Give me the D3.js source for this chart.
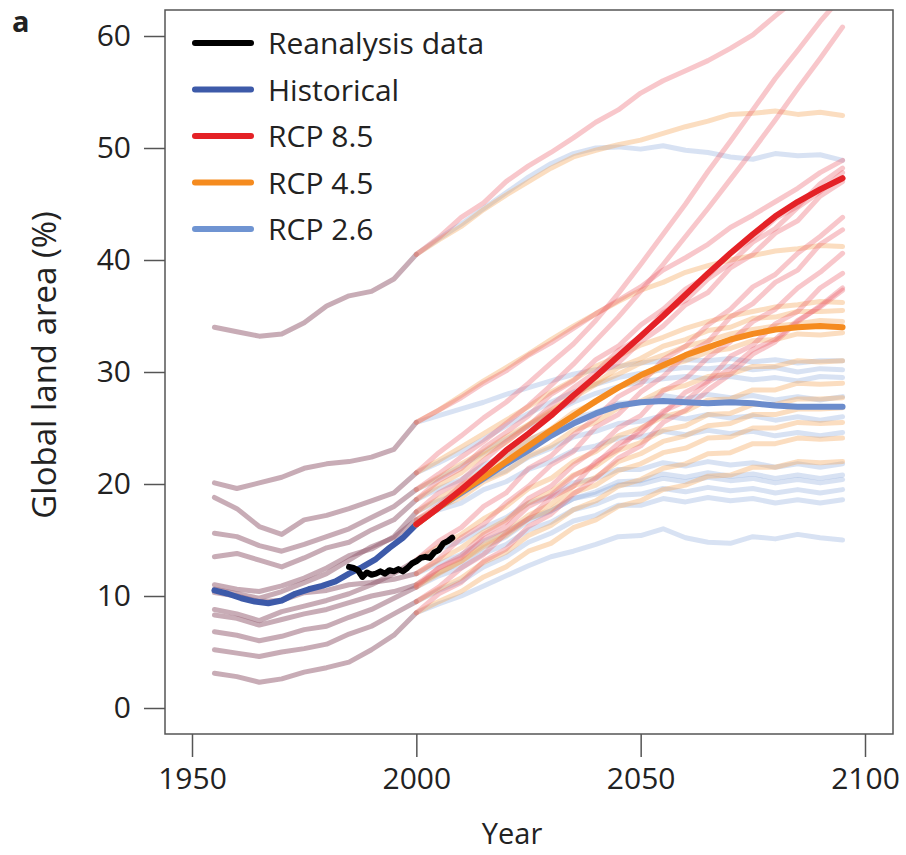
<!DOCTYPE html>
<html>
<head>
<meta charset="utf-8">
<script src="https://cdn.jsdelivr.net/npm/d3@7"></script>
<style>
  html, body { margin: 0; padding: 0; background: #fff; }
  svg { display: block; }
  text { font-family: "Open Sans", "Noto Sans", sans-serif; fill: #222; }
</style>
</head>
<body>
<svg id="chart" width="906" height="855"></svg>
<script>
// Years sampled for the model runs
const histYears = [1955, 1960, 1965, 1970, 1975, 1980, 1985, 1990, 1995, 2000];
const rcpYears = [2000, 2005, 2010, 2015, 2020, 2025, 2030, 2035, 2040, 2045,
                  2050, 2055, 2060, 2065, 2070, 2075, 2080, 2085, 2090, 2095];

// Individual models, historical period (% of global land area)
const histRuns = [
  [34.0, 33.6, 33.2, 33.4, 34.4, 35.9, 36.8, 37.2, 38.3, 40.5],
  [20.1, 19.6, 20.1, 20.6, 21.4, 21.8, 22.0, 22.4, 23.1, 25.5],
  [18.8, 17.8, 16.2, 15.5, 16.8, 17.2, 17.8, 18.5, 19.2, 21.0],
  [15.6, 15.3, 14.5, 14.0, 14.6, 15.3, 16.0, 17.0, 18.0, 19.5],
  [13.5, 13.8, 13.2, 12.6, 13.4, 14.3, 14.8, 15.9, 16.8, 18.6],
  [11.0, 10.6, 10.4, 10.9, 11.6, 12.5, 13.6, 14.2, 15.3, 17.5],
  [10.6, 10.2, 9.8, 10.4, 11.2, 12.0, 13.2, 14.4, 15.2, 16.8],
  [8.8, 8.4, 7.8, 8.6, 9.1, 9.6, 10.2, 11.0, 12.0, 13.2],
  [10.3, 10.0, 9.5, 9.6, 10.3, 10.5, 11.0, 11.2, 11.5, 12.0],
  [6.8, 6.5, 6.0, 6.4, 7.0, 7.3, 8.1, 8.8, 9.8, 10.8],
  [5.2, 4.9, 4.6, 5.0, 5.3, 5.7, 6.6, 7.3, 8.4, 9.5],
  [3.1, 2.8, 2.3, 2.6, 3.2, 3.6, 4.1, 5.2, 6.5, 8.5],
  [8.3, 8.0, 7.4, 7.9, 8.4, 8.8, 9.4, 10.0, 10.4, 11.0]
];

// Individual models, RCP 8.5
const rcp85Runs = [
  [40.5, 42.0, 43.8, 45.1, 47.0, 48.4, 49.6, 50.9, 52.3, 53.4, 54.9, 56.0, 56.9, 57.8, 58.9, 60.1, 61.8, 63.4, 65.0, 66.6],
  [25.5, 26.6, 27.7, 29.0, 30.1, 31.5, 32.6, 33.9, 35.2, 36.4, 37.6, 39.1, 40.2, 41.4, 42.9, 44.0, 45.2, 46.4, 47.8, 48.9],
  [21.0, 22.8, 24.3, 25.9, 27.3, 29.0, 30.8, 32.5, 34.6, 37.0, 39.6, 42.3, 45.0, 47.9, 50.6, 53.4, 56.2, 58.7, 61.3, 63.6],
  [19.5, 20.9, 22.4, 23.8, 25.4, 27.0, 28.8, 30.7, 32.8, 34.9, 37.2, 39.6, 42.1, 44.6, 47.2, 49.8, 52.5, 55.3, 58.0, 60.8],
  [18.6, 20.3, 21.4, 23.2, 24.6, 26.1, 28.0, 29.2, 31.1, 32.3, 34.2, 35.6, 37.4, 38.6, 40.6, 41.9, 43.7, 44.8, 46.8, 48.2],
  [17.5, 19.2, 20.3, 22.1, 23.8, 25.2, 27.0, 28.6, 30.0, 31.9, 33.1, 35.3, 36.4, 38.3, 39.7, 41.6, 42.8, 44.7, 46.1, 47.8],
  [16.8, 18.1, 19.9, 21.1, 23.0, 24.5, 26.4, 27.5, 29.7, 30.8, 32.7, 34.1, 36.0, 37.1, 39.3, 40.5, 42.4, 43.5, 45.7, 47.0],
  [13.2, 14.9, 16.1, 18.0, 19.2, 21.4, 22.5, 24.4, 25.9, 27.8, 28.9, 31.1, 32.3, 34.2, 35.6, 37.6, 38.7, 40.6, 42.1, 43.8],
  [12.0, 13.3, 15.2, 16.4, 18.3, 19.8, 21.7, 22.9, 25.1, 26.2, 28.2, 29.6, 31.5, 32.7, 34.9, 36.1, 38.0, 39.1, 41.4, 42.7],
  [10.8, 12.5, 13.6, 15.5, 16.6, 18.7, 19.8, 21.7, 23.1, 25.0, 26.1, 28.3, 29.4, 31.3, 32.7, 34.5, 35.6, 37.5, 38.9, 40.6],
  [9.5, 10.8, 12.5, 13.7, 15.6, 16.9, 18.8, 19.8, 22.0, 23.1, 24.9, 26.3, 28.2, 29.2, 31.4, 32.4, 34.3, 35.4, 37.5, 38.8],
  [8.5, 10.2, 11.2, 13.1, 14.2, 16.2, 17.3, 19.1, 20.5, 22.3, 23.4, 25.5, 26.6, 28.4, 29.8, 31.6, 32.7, 34.5, 35.9, 37.5],
  [11.0, 12.5, 13.4, 15.1, 16.1, 18.0, 19.0, 20.7, 21.8, 23.6, 24.5, 26.5, 27.4, 29.1, 30.3, 32.0, 32.9, 34.6, 35.8, 37.3]
];

// Individual models, RCP 4.5
const rcp45Runs = [
  [40.5, 41.8, 43.0, 44.5, 45.8, 47.0, 48.2, 49.2, 49.8, 50.3, 50.7, 51.3, 51.9, 52.4, 53.0, 53.1, 53.3, 53.0, 53.2, 52.9],
  [25.5, 26.6, 27.9, 29.2, 30.4, 31.6, 32.9, 34.1, 35.2, 36.3, 37.3, 38.0, 38.9, 39.5, 40.0, 40.4, 40.8, 41.0, 41.3, 41.2],
  [21.0, 22.1, 23.3, 24.5, 25.7, 26.9, 28.2, 29.3, 30.5, 31.4, 32.4, 33.1, 33.9, 34.5, 35.0, 35.4, 35.8, 36.0, 36.3, 36.2],
  [19.5, 20.6, 21.8, 22.9, 24.2, 25.3, 26.6, 27.7, 28.9, 29.8, 30.8, 31.5, 32.3, 32.8, 33.4, 33.8, 34.1, 34.3, 34.6, 34.5],
  [18.6, 19.9, 21.0, 22.6, 23.7, 25.3, 26.4, 28.0, 29.0, 30.4, 31.2, 32.3, 32.9, 33.7, 34.0, 34.8, 34.9, 35.4, 35.4, 35.5],
  [17.5, 18.7, 19.8, 21.3, 22.4, 23.9, 24.9, 26.4, 27.3, 28.6, 29.4, 30.5, 31.0, 31.8, 32.1, 32.8, 32.9, 33.4, 33.3, 33.5],
  [16.8, 17.9, 18.8, 20.2, 21.1, 22.5, 23.4, 24.8, 25.5, 26.8, 27.4, 28.4, 28.8, 29.6, 29.8, 30.5, 30.5, 31.0, 30.9, 31.0],
  [13.2, 14.4, 15.5, 16.9, 18.0, 19.6, 20.5, 22.0, 22.9, 24.3, 25.0, 26.0, 26.5, 27.5, 27.6, 28.4, 28.4, 29.0, 28.9, 29.0],
  [12.0, 13.2, 14.3, 15.7, 16.8, 18.3, 19.3, 20.8, 21.6, 23.0, 23.7, 24.8, 25.2, 26.2, 26.3, 27.1, 27.1, 27.6, 27.6, 27.7],
  [10.8, 12.0, 13.1, 14.6, 15.7, 17.2, 18.2, 19.8, 20.6, 22.0, 22.7, 23.8, 24.3, 25.2, 25.4, 26.2, 26.2, 26.7, 26.7, 26.8],
  [9.5, 10.6, 11.6, 13.0, 13.9, 15.4, 16.3, 17.7, 18.5, 19.8, 20.4, 21.4, 21.8, 22.7, 22.8, 23.6, 23.6, 24.1, 24.0, 24.1],
  [8.5, 9.5, 10.4, 11.7, 12.6, 14.0, 14.7, 16.1, 16.8, 18.0, 18.5, 19.5, 19.9, 20.7, 20.8, 21.5, 21.5, 22.0, 21.9, 22.0],
  [11.0, 12.1, 13.1, 14.4, 15.4, 16.9, 17.7, 19.2, 19.9, 21.2, 21.8, 22.8, 23.2, 24.1, 24.2, 25.0, 25.0, 25.5, 25.4, 25.5]
];

// Individual models, RCP 2.6
const rcp26Runs = [
  [40.5, 41.9, 43.2, 44.6, 46.0, 47.4, 48.6, 49.5, 50.0, 50.1, 49.9, 50.2, 49.8, 49.6, 49.2, 49.0, 49.5, 49.3, 49.4, 48.9],
  [25.5, 26.1, 26.7, 27.3, 28.0, 28.6, 29.2, 29.8, 30.2, 30.5, 30.8, 31.0, 31.1, 31.0, 31.2, 30.9, 31.1, 30.8, 31.0, 31.0],
  [21.0, 21.9, 22.9, 24.0, 25.2, 26.3, 27.3, 28.2, 28.9, 29.5, 29.9, 30.2, 30.4, 30.3, 30.5, 30.2, 30.4, 30.0, 30.3, 30.2],
  [19.5, 20.5, 21.6, 22.8, 24.0, 25.2, 26.3, 27.3, 28.1, 28.7, 29.1, 29.4, 29.6, 29.4, 29.6, 29.3, 29.5, 29.2, 29.6, 29.5],
  [18.6, 19.6, 20.4, 21.7, 22.6, 23.9, 24.8, 25.9, 26.4, 27.2, 27.3, 27.9, 27.6, 28.0, 27.7, 27.9, 27.5, 27.8, 27.5, 27.8],
  [17.5, 18.5, 19.2, 20.4, 21.2, 22.4, 23.2, 24.2, 24.7, 25.4, 25.6, 26.1, 25.8, 26.2, 25.9, 26.1, 25.7, 26.0, 25.7, 26.0],
  [16.8, 17.7, 18.3, 19.5, 20.2, 21.3, 22.0, 23.0, 23.4, 24.1, 24.2, 24.7, 24.4, 24.8, 24.5, 24.7, 24.3, 24.6, 24.3, 24.6],
  [13.2, 14.2, 14.9, 16.1, 17.0, 18.3, 18.9, 20.1, 20.5, 21.3, 21.3, 21.9, 21.6, 22.0, 21.7, 21.9, 21.5, 21.8, 21.5, 21.8],
  [12.0, 12.9, 13.7, 14.9, 15.7, 16.9, 17.6, 18.7, 19.1, 19.9, 20.0, 20.5, 20.2, 20.6, 20.3, 20.5, 20.1, 20.4, 20.1, 20.4],
  [10.8, 11.8, 12.5, 13.8, 14.6, 15.9, 16.6, 17.7, 18.2, 19.0, 19.1, 19.6, 19.3, 19.7, 19.4, 19.6, 19.2, 19.5, 19.2, 19.5],
  [9.5, 10.5, 11.3, 12.6, 13.5, 14.8, 15.6, 16.7, 17.2, 18.1, 18.1, 18.7, 18.4, 18.8, 18.5, 18.7, 18.3, 18.6, 18.3, 18.6],
  [8.5, 9.3, 10.0, 10.9, 11.8, 12.7, 13.5, 14.0, 14.6, 15.3, 15.4, 16.0, 15.2, 14.8, 14.7, 15.3, 15.1, 15.5, 15.2, 15.0],
  [11.0, 12.1, 13.0, 14.3, 15.3, 16.7, 17.6, 18.7, 19.3, 20.2, 20.3, 20.9, 20.6, 21.0, 20.7, 20.9, 20.5, 20.8, 20.5, 20.8]
];

// Multi-model means
const histMeanYears = [1955, 1958, 1961, 1964, 1967, 1970, 1973, 1976, 1979, 1982, 1985, 1988, 1991, 1994, 1997, 2000];
const histMean = [10.5, 10.2, 9.8, 9.5, 9.35, 9.6, 10.2, 10.6, 10.9, 11.3, 12.0, 12.6, 13.3, 14.3, 15.2, 16.4];
const rcp85Mean = [16.4, 17.9, 19.5, 21.2, 23.0, 24.5, 26.1, 27.9, 29.6, 31.4, 33.2, 35.0, 36.9, 38.8, 40.6, 42.3, 43.9, 45.2, 46.3, 47.3];
const rcp45Mean = [16.4, 17.9, 19.3, 20.6, 22.0, 23.4, 24.8, 26.1, 27.4, 28.6, 29.7, 30.6, 31.5, 32.2, 32.9, 33.4, 33.8, 34.0, 34.1, 34.0];
const rcp26Mean = [16.4, 17.9, 19.2, 20.5, 21.8, 23.0, 24.3, 25.4, 26.3, 27.0, 27.3, 27.4, 27.3, 27.2, 27.3, 27.2, 27.0, 26.9, 26.9, 26.9];

// Reanalysis, annual
const reanalysisYears = [1985, 1986, 1987, 1988, 1989, 1990, 1991, 1992, 1993, 1994, 1995, 1996,
                         1997, 1998, 1999, 2000, 2001, 2002, 2003, 2004, 2005, 2006, 2007, 2008];
const reanalysis = [12.6, 12.5, 12.3, 11.7, 12.1, 11.9, 12.0, 12.2, 12.0, 12.3, 12.2, 12.4,
                    12.2, 12.5, 12.9, 13.1, 13.4, 13.5, 13.4, 13.9, 14.1, 14.7, 14.9, 15.2];

const legendLabels = ["Reanalysis data", "Historical", "RCP 8.5", "RCP 4.5", "RCP 2.6"];
const legendColors = ["#000000", "#3d5aa9", "#e42126", "#f58b1f", "#6f94d2"];
const xTicks = [1950, 2000, 2050, 2100];
const yTicks = [0, 10, 20, 30, 40, 50, 60];

const svg = d3.select("#chart");
const box = { left: 165, right: 893, top: 10, bottom: 734 };

const x = d3.scaleLinear().domain([1950, 2100]).range([192, 865]);
const y = d3.scaleLinear().domain([0, 60]).range([708, 36]);

svg.append("defs").append("clipPath").attr("id", "plotClip")
  .append("rect")
  .attr("x", box.left).attr("y", box.top)
  .attr("width", box.right - box.left).attr("height", box.bottom - box.top);

const plot = svg.append("g").attr("clip-path", "url(#plotClip)");

function lineFor(years) {
  return d3.line().x((d, i) => x(years[i])).y(d => y(d));
}
const histLine = lineFor(histYears);
const rcpLine = lineFor(rcpYears);

function drawRuns(runs, gen, color, opacity, width) {
  plot.append("g")
    .selectAll("path").data(runs).join("path")
    .attr("d", gen)
    .attr("fill", "none")
    .attr("stroke", color)
    .attr("stroke-opacity", opacity)
    .attr("stroke-width", width)
    .attr("stroke-linejoin", "round")
    .attr("stroke-linecap", "round");
}

drawRuns(histRuns, histLine, "rgb(145,90,110)", 0.5, 5);
drawRuns(rcp26Runs, rcpLine, "rgb(125,160,215)", 0.3, 5);
drawRuns(rcp45Runs, rcpLine, "rgb(245,165,90)", 0.38, 5);
drawRuns(rcp85Runs, rcpLine, "rgb(236,95,105)", 0.35, 5);

function drawMean(years, values, color, width) {
  plot.append("path")
    .datum(values)
    .attr("d", lineFor(years))
    .attr("fill", "none")
    .attr("stroke", color)
    .attr("stroke-width", width)
    .attr("stroke-linejoin", "round")
    .attr("stroke-linecap", "round");
}

drawMean(histMeanYears, histMean, "#3d5aa9", 6);
drawMean(rcpYears, rcp26Mean, "#6b8ccc", 6);
drawMean(rcpYears, rcp45Mean, "#f58b1f", 6);
drawMean(rcpYears, rcp85Mean, "#e42126", 6);
drawMean(reanalysisYears, reanalysis, "#000000", 6);

// Frame
svg.append("rect")
  .attr("x", box.left).attr("y", box.top)
  .attr("width", box.right - box.left).attr("height", box.bottom - box.top)
  .attr("fill", "none").attr("stroke", "#555").attr("stroke-width", 1.5);

// Axes
const yAxis = d3.axisLeft(y).tickValues(yTicks).tickSize(21).tickPadding(13);
const yG = svg.append("g").attr("transform", `translate(${box.left},0)`).call(yAxis);
yG.select(".domain").remove();
yG.selectAll(".tick line").attr("stroke", "#555").attr("stroke-width", 1.5);
yG.selectAll(".tick text").attr("font-size", 30).attr("fill", "#222")
  .attr("font-family", "'Open Sans', sans-serif");

const xAxis = d3.axisBottom(x).tickValues(xTicks).tickFormat(d3.format("d")).tickSize(23).tickPadding(11);
const xG = svg.append("g").attr("transform", `translate(0,${box.bottom})`).call(xAxis);
xG.select(".domain").remove();
xG.selectAll(".tick line").attr("stroke", "#555").attr("stroke-width", 1.5);
xG.selectAll(".tick text").attr("font-size", 30).attr("fill", "#222")
  .attr("font-family", "'Open Sans', sans-serif");

// Axis titles
svg.append("text")
  .attr("x", 512).attr("y", 844)
  .attr("text-anchor", "middle").attr("font-size", 29)
  .text("Year");

svg.append("text")
  .attr("transform", "translate(56,365) rotate(-90)")
  .attr("text-anchor", "middle").attr("font-size", 33)
  .attr("font-family", "'Liberation Sans', Arial, sans-serif")
  .text("Global land area (%)");

// Panel letter
svg.append("text")
  .attr("x", 12).attr("y", 32)
  .attr("font-size", 29).attr("font-weight", "bold")
  .attr("font-family", "'Liberation Sans', Arial, sans-serif")
  .text("a");

// Legend
const legend = svg.append("g");
const legendRows = legend.selectAll("g").data(legendLabels).join("g")
  .attr("transform", (d, i) => `translate(0,${43 + i * 46.5})`);
legendRows.append("line")
  .attr("x1", 195).attr("x2", 251).attr("y1", 0).attr("y2", 0)
  .attr("stroke", (d, i) => legendColors[i])
  .attr("stroke-width", 6).attr("stroke-linecap", "round");
legendRows.append("text")
  .attr("x", 268).attr("y", 11)
  .attr("font-size", 30)
  .text(d => d);
</script>
</body>
</html>
